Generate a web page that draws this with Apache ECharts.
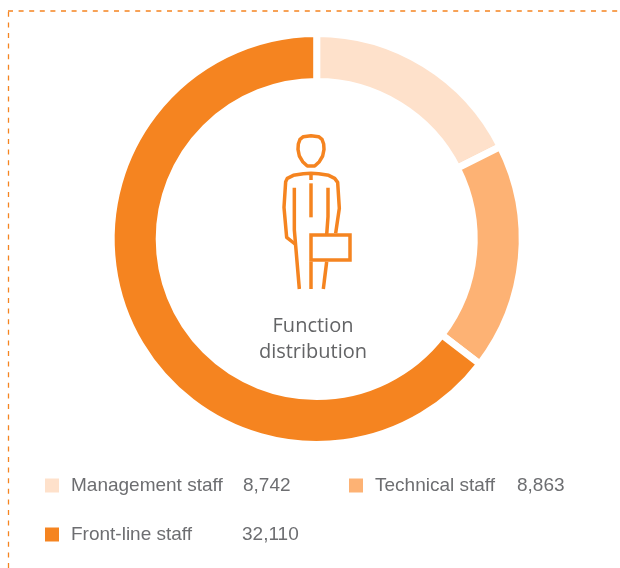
<!DOCTYPE html>
<html><head><meta charset="utf-8">
<style>html,body{margin:0;padding:0;background:#fff}#c{width:620px;height:568px}</style>
<script src="https://cdn.jsdelivr.net/npm/echarts@6/dist/echarts.min.js"></script>
</head><body><div id="c"></div>
<script>
const categories = ['Management staff', 'Technical staff', 'Front-line staff'];
const values = [8742, 8863, 32110];
const colors = ['#FEE1CB', '#FDB274', '#F58420'];
const centerLines = 'Function\ndistribution';

const chart = echarts.init(document.getElementById('c'), null, {renderer: 'canvas'});
const fmt = v => v.toLocaleString('en-US');
const TXT = '#6d6e71';
const ink = '#F58420';
const legendAt = [
  {left: 45, top: 476, w: 172},
  {left: 349, top: 476, w: 142},
  {left: 45, top: 525, w: 171}
];
const line = (points, extra) => ({type: 'polyline', shape: {points}, style: {stroke: ink, lineWidth: 3.5, fill: null, lineJoin: 'miter', ...extra}});
// zoom-space helper for the person icon
const z = (x, y) => [240 + x / 3, 120 + y / 3];
const zs = pts => pts.map(p => z(p[0], p[1]));

chart.setOption({
  animation: false,
  backgroundColor: '#fff',
  legend: categories.map((name, i) => ({
    data: [name],
    left: legendAt[i].left,
    top: legendAt[i].top,
    padding: 0,
    itemWidth: 14,
    itemHeight: 14,
    itemGap: 0,
    icon: 'rect',
    itemStyle: {borderWidth: 0},
    selectedMode: false,
    formatter: n => `{n|${n}}{v|${fmt(values[i])}}`,
    textStyle: {
      rich: {
        n: {width: legendAt[i].w, padding: [0, 0, 0, 7], fontFamily: 'Liberation Sans', fontSize: 19, color: TXT},
        v: {fontFamily: 'Liberation Sans', fontSize: 19, color: TXT}
      }
    }
  })),
  series: [{
    type: 'pie',
    center: [316.7, 239],
    radius: [157.5, 205.5],
    startAngle: 90,
    clockwise: true,
    label: {show: false},
    labelLine: {show: false},
    silent: true,
    itemStyle: {borderColor: '#fff', borderWidth: 7},
    data: categories.map((name, i) => ({name, value: values[i], itemStyle: {color: colors[i]}}))
  }],
  graphic: [
    {type: 'polyline', shape: {points: [[8.5, 568], [8.5, 11]]}, style: {stroke: '#F58420', lineWidth: 1.3, fill: null, lineDash: [5, 5.6]}},
    {type: 'polyline', shape: {points: [[8, 11], [620, 11]]}, style: {stroke: '#F58420', lineWidth: 1.4, fill: null, lineDash: [5, 5.6]}},
    {type: 'polygon', shape: {points: zs([[190,50],[213,47],[236,50],[246,58],[251,72],[252,88],[248,108],[238,125],[224,138],[202,138],[188,125],[178,108],[174,88],[175,72],[180,58]])}, style: {stroke: ink, lineWidth: 3.5, fill: null, lineJoin: 'round'}},
    {type: 'polyline', shape: {points: zs([[165,372],[140,352],[132,262],[137,185],[142,175],[160,166],[190,161],[213,160],[236,161],[266,166],[284,175],[293,187],[298,265],[287,340]])}, style: {stroke: ink, lineWidth: 3.5, fill: null, lineJoin: 'round'}},
    line(zs([[163, 203], [163, 330], [178, 507]])),
    line(zs([[213, 165], [213, 180]])),
    line(zs([[213, 190], [213, 292]])),
    line(zs([[264, 203], [264, 290], [260, 345]])),
    line(zs([[213, 425], [213, 507]])),
    line(zs([[260, 425], [250, 507]])),
    {type: 'rect', shape: {x: 311, y: 235, width: 39, height: 25}, style: {stroke: ink, lineWidth: 3.5, fill: '#fff'}},
    {type: 'text', x: 313, y: 313, style: {text: centerLines, fontFamily: 'Open Sans', fontSize: 20, lineHeight: 26, fill: '#636466', align: 'center'}}
  ]
});
</script></body></html>
